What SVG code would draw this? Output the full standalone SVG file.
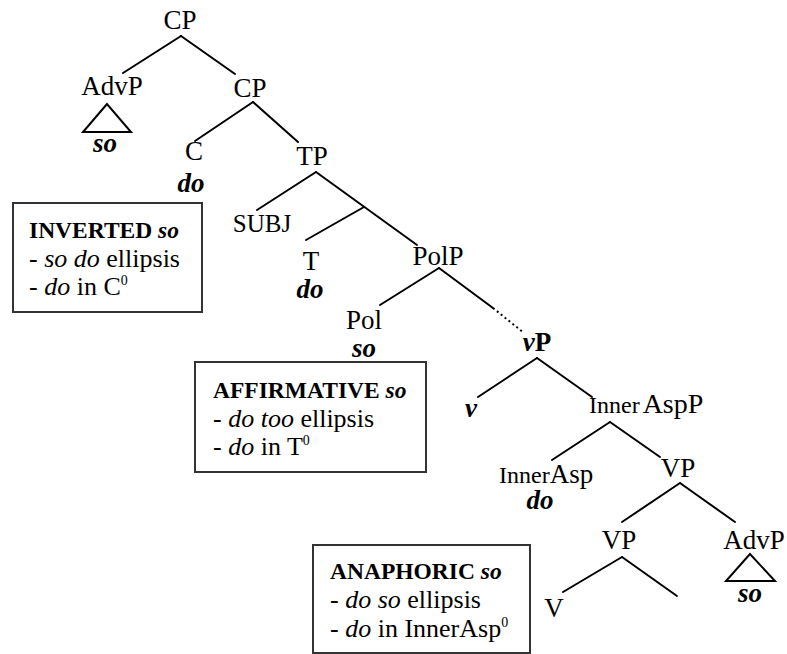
<svg xmlns="http://www.w3.org/2000/svg" width="787" height="654" viewBox="0 0 787 654">
<style>
text{font-family:"Liberation Serif","Times New Roman",serif;fill:#000}
.n{font-size:27px;text-anchor:middle}
.bi{font-size:27px;font-weight:bold;font-style:italic;text-anchor:middle}
.e{stroke:#000;stroke-width:2;fill:none;stroke-linecap:round}
.d{stroke:#000;stroke-width:2;fill:none;stroke-dasharray:2 3}
.box{fill:#fff;stroke:#333;stroke-width:2}
.bt{font-size:26px}
.h{font-size:23.5px;font-weight:bold}
.i{font-style:italic}
.sup{font-size:14px}
</style>
<rect width="787" height="654" fill="#fff"/>
<g id="connectors">
<line class="e" x1="181" y1="36" x2="123" y2="73"/>
<line class="e" x1="181" y1="36" x2="235" y2="74"/>
<line class="e" x1="253" y1="102" x2="195" y2="141"/>
<line class="e" x1="253" y1="102" x2="298" y2="142"/>
<line class="e" x1="316" y1="172" x2="257" y2="210"/>
<line class="e" x1="316" y1="172" x2="417" y2="245"/>
<line class="e" x1="364" y1="207" x2="306" y2="240"/>
<line class="e" x1="439" y1="268" x2="380" y2="305"/>
<line class="e" x1="439" y1="268" x2="493" y2="308"/>
<line class="d" x1="493" y1="308" x2="524" y2="333"/>
<line class="e" x1="537" y1="358" x2="478" y2="397"/>
<line class="e" x1="537" y1="358" x2="592" y2="397"/>
<line class="e" x1="610" y1="422" x2="552" y2="460"/>
<line class="e" x1="610" y1="422" x2="660" y2="457"/>
<line class="e" x1="680" y1="483" x2="622" y2="522"/>
<line class="e" x1="680" y1="483" x2="735" y2="522"/>
<line class="e" x1="622" y1="557" x2="563" y2="592"/>
<line class="e" x1="622" y1="557" x2="677" y2="596"/>
</g>
<g id="CP-top"><text class="n" x="180" y="29">CP</text></g>
<g id="AdvP-left"><text class="n" x="112" y="95">AdvP</text>
<polygon class="e" points="107,104 83,132 131,132" stroke-linejoin="miter"/>
<text class="bi" x="105" y="152">so</text></g>
<g id="CP-lower"><text class="n" x="250" y="97">CP</text></g>
<g id="C"><text class="n" x="194" y="160">C</text><text class="bi" x="191" y="192">do</text></g>
<g id="TP"><text class="n" x="312" y="165">TP</text></g>
<g id="SUBJ"><text class="n" x="262" y="232" style="font-size:25px">SUBJ</text></g>
<g id="T"><text class="n" x="311" y="270">T</text><text class="bi" x="310" y="298">do</text></g>
<g id="PolP"><text class="n" x="438" y="265">PolP</text></g>
<g id="Pol"><text class="n" x="364" y="329">Pol</text><text class="bi" x="364" y="357">so</text></g>
<g id="vP"><text class="n" x="537" y="351" style="font-weight:bold"><tspan font-style="italic">v</tspan>P</text></g>
<g id="v"><text class="bi" x="471" y="417">v</text></g>
<g id="InnerAspP"><text x="589" y="413" style="font-size:28px"><tspan style="font-size:24px">Inner</tspan><tspan dx="3">AspP</tspan></text></g>
<g id="InnerAsp"><text x="499" y="483" style="font-size:27px"><tspan style="font-size:24px">Inner</tspan>Asp</text><text class="bi" x="540" y="509">do</text></g>
<g id="VP-upper"><text class="n" x="678" y="477">VP</text></g>
<g id="VP-lower"><text class="n" x="619" y="549">VP</text></g>
<g id="AdvP-right"><text class="n" x="754" y="549">AdvP</text>
<polygon class="e" points="750,554 726,581 775,581" stroke-linejoin="miter"/>
<text class="bi" x="750" y="602">so</text></g>
<g id="V"><text class="n" x="554" y="617">V</text></g>
<g id="box-inverted">
<rect class="box" x="13" y="203" width="189" height="109"/>
<text class="h" x="29" y="238">INVERTED <tspan class="i">so</tspan></text>
<text class="bt" x="29" y="267">- <tspan class="i">so do</tspan> ellipsis</text>
<text class="bt" x="29" y="295">- <tspan class="i">do</tspan> in C<tspan class="sup" dy="-10">0</tspan></text>
</g>
<g id="box-affirmative">
<rect class="box" x="195" y="362" width="231" height="110"/>
<text class="h" x="213" y="398">AFFIRMATIVE <tspan class="i">so</tspan></text>
<text class="bt" x="213" y="427">- <tspan class="i">do too</tspan> ellipsis</text>
<text class="bt" x="213" y="455">- <tspan class="i">do</tspan> in T<tspan class="sup" dy="-10">0</tspan></text>
</g>
<g id="box-anaphoric">
<rect class="box" x="313" y="545" width="217" height="108"/>
<text class="h" x="330" y="579">ANAPHORIC <tspan class="i">so</tspan></text>
<text class="bt" x="330" y="608">- <tspan class="i">do so</tspan> ellipsis</text>
<text class="bt" x="330" y="637">- <tspan class="i">do</tspan> in InnerAsp<tspan class="sup" dy="-10">0</tspan></text>
</g>
</svg>
